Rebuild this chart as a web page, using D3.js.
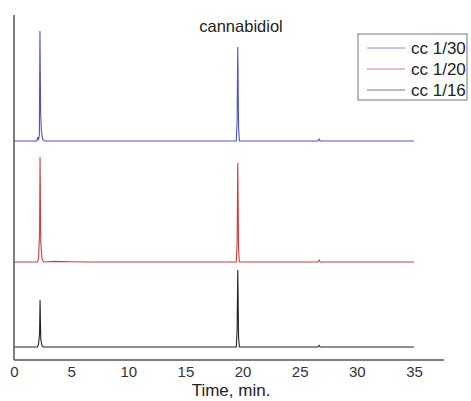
<!DOCTYPE html>
<html>
<head>
<meta charset="utf-8">
<script src="https://cdn.jsdelivr.net/npm/d3@7"></script>
<style>
  body { margin: 0; background: #fff; }
  text { font-family: "Liberation Sans", Arial, sans-serif; fill: #222; }
</style>
</head>
<body>
<div id="viz-wrapper"></div>
<script>
let width = 471,
    height = 401;

// series names, legend order
let seriesNames = ['cc 1/30', 'cc 1/20', 'cc 1/16'];
let seriesColors = ['#4e52c2', '#d23c3c', '#222222'];
let legendColors = ['#8a8cc8', '#d98080', '#777777'];
// vertical offset of each trace's baseline (signal units)
let seriesOffsets = [206, 85, 0];

// [time (min), signal]
let trace130 = [[0,0],[2.0,0],[2.08,4],[2.14,1],[2.22,6],[2.27,110],[2.33,28],[2.4,10],[2.5,2],[2.65,0],
  [19.45,0],[19.52,20],[19.58,94],[19.65,15],[19.72,0],[26.6,0],[26.7,2],[26.8,0],[35,0]];
let trace120 = [[0,0],[2.05,0],[2.15,4],[2.24,30],[2.28,105],[2.34,20],[2.45,3],[2.6,0],[3.5,0.6],[5,0.3],[6.5,0],
  [19.45,0],[19.52,18],[19.58,99],[19.65,12],[19.72,0],[26.6,0],[26.7,2],[26.8,0],[35,0]];
let trace116 = [[0,0],[2.05,0],[2.15,3],[2.24,14],[2.28,47],[2.34,8],[2.45,1],[2.6,0],
  [19.45,0],[19.52,16],[19.58,77],[19.65,10],[19.72,0],[26.6,0],[26.7,1.5],[26.8,0],[35,0]];
let traces = [trace130, trace120, trace116];

let xTicks = [0, 5, 10, 15, 20, 25, 30, 35];

let xScale = d3.scaleLinear().domain([0, 35]).range([14, 414]);
let yScale = d3.scaleLinear().domain([-13, 345]).range([360, 2]);

let svg = d3.select('#viz-wrapper')
  .append('svg')
  .attr('width', width)
  .attr('height', height);

// traces
let line = d3.line()
  .x(function(d) { return xScale(d[0]); })
  .y(function(d) { return yScale(d[1]); });

traces.forEach(function(t, i) {
  let pts = t.map(function(p) { return [p[0], p[1] + seriesOffsets[i]]; });
  svg.append('path')
    .datum(pts)
    .attr('d', line)
    .style('fill', 'none')
    .style('stroke', seriesColors[i])
    .style('stroke-width', 1.1);
});

// axes
svg.append('line')
  .attr('x1', 14).attr('x2', 14)
  .attr('y1', 15).attr('y2', 360)
  .style('stroke', '#555').style('stroke-width', 1.5);

svg.append('line')
  .attr('x1', 14).attr('x2', 444)
  .attr('y1', 360).attr('y2', 360)
  .style('stroke', '#555').style('stroke-width', 1.5);

let xAxis = d3.axisBottom(xScale).tickValues(xTicks).tickSize(0).tickPadding(6);
let gx = svg.append('g')
  .attr('transform', 'translate(0,360)')
  .call(xAxis);
gx.select('.domain').remove();
gx.selectAll('text')
  .style('font-size', '15px')
  .style('font-family', '"Liberation Sans", Arial, sans-serif')
  .style('fill', '#333');

svg.append('text')
  .attr('x', 231).attr('y', 396)
  .attr('text-anchor', 'middle')
  .style('font-size', '17px')
  .text('Time, min.');

svg.append('text')
  .attr('x', 241).attr('y', 32)
  .attr('text-anchor', 'middle')
  .style('font-size', '16.5px')
  .text('cannabidiol');

// legend
let legend = svg.append('g');
legend.append('rect')
  .attr('x', 358).attr('y', 34)
  .attr('width', 109).attr('height', 66)
  .style('fill', '#fff').style('stroke', '#777').style('stroke-width', 1);

seriesNames.forEach(function(name, i) {
  let y = 48 + i * 21;
  legend.append('line')
    .attr('x1', 367).attr('x2', 405)
    .attr('y1', y).attr('y2', y)
    .style('stroke', legendColors[i]).style('stroke-width', 1.2);
  legend.append('text')
    .attr('x', 411).attr('y', y + 6)
    .style('font-size', '17px')
    .text(name);
});
</script>
</body>
</html>
